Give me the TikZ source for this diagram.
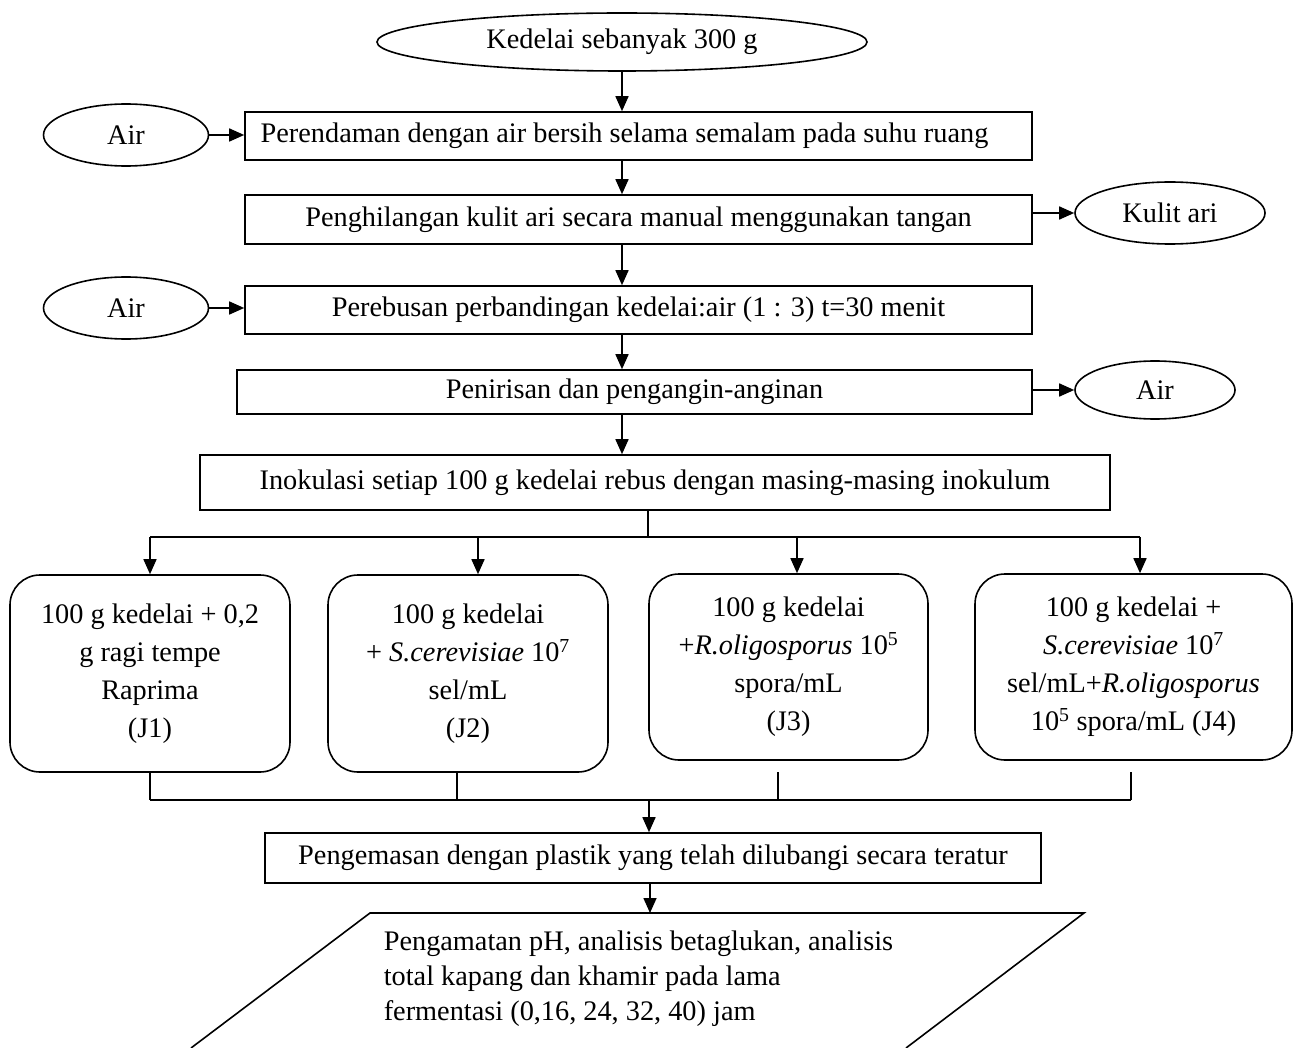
\documentclass[tikz,border=0pt]{standalone}
\usepackage{fontspec}
\setmainfont{Liberation Serif}
\usetikzlibrary{shapes.geometric,arrows.meta}
\begin{document}
\begin{tikzpicture}[x=1pt,y=-1pt, line width=1.6pt,
  every node/.style={font=\fontsize{28.3}{38}\selectfont},
  proc/.style={draw, rectangle, inner sep=0pt},
  oval/.style={draw, ellipse, inner sep=0pt},
  rbox/.style={draw, rounded corners=30pt, align=center, inner sep=0pt},
  arr/.style={-{Triangle[length=15pt,width=13pt]}}]
\useasboundingbox (0,0) rectangle (1303,1048);
% main chain
\node[oval, minimum width=490pt, minimum height=58pt] (start) at (622,42) {Kedelai sebanyak 300 g};
\node[proc, minimum width=787pt, minimum height=48pt] (b1) at (638.5,136) {Perendaman dengan air bersih selama semalam pada suhu ruang\hspace*{28pt}};
\node[oval, minimum width=165pt, minimum height=62pt] (air1) at (126,135) {Air};
\node[proc, minimum width=787pt, minimum height=49pt] (b2) at (638.5,219.5) {Penghilangan kulit ari secara manual menggunakan tangan};
\node[oval, minimum width=190pt, minimum height=62pt] (kulit) at (1170,213) {Kulit ari};
\node[proc, minimum width=787pt, minimum height=48pt] (b3) at (638.5,310) {Perebusan perbandingan kedelai:air (1 : 3) t=30 menit};
\node[oval, minimum width=165pt, minimum height=62pt] (air2) at (126,308) {Air};
\node[proc, minimum width=795pt, minimum height=44pt] (b4) at (634.5,392) {Penirisan dan pengangin-anginan};
\node[oval, minimum width=160pt, minimum height=58pt] (air3) at (1155,390) {Air};
\node[proc, minimum width=910pt, minimum height=55pt] (b5) at (655,482.5) {Inokulasi setiap 100 g kedelai rebus dengan masing-masing inokulum};
% treatments
\node[rbox, minimum width=280pt, minimum height=197pt] (j1) at (150,673.5) {100 g kedelai + 0,2\\ g ragi tempe\\ Raprima\\ (J1)};
\node[rbox, minimum width=280pt, minimum height=197pt] (j2) at (468,673.5) {100 g kedelai\\ + \textit{S.cerevisiae} 10\textsuperscript{7}\\ sel/mL\\ (J2)};
\node[rbox, minimum width=279pt, minimum height=186pt] (j3) at (788.5,667) {100 g kedelai\\ +\textit{R.oligosporus} 10\textsuperscript{5}\\ spora/mL\\ (J3)};
\node[rbox, minimum width=317pt, minimum height=186pt] (j4) at (1133.5,667) {100 g kedelai +\\ \textit{S.cerevisiae} 10\textsuperscript{7}\\ sel/mL+\textit{R.oligosporus}\\ 10\textsuperscript{5} spora/mL (J4)};
\node[proc, minimum width=776pt, minimum height=50pt] (pack) at (653,858) {Pengemasan dengan plastik yang telah dilubangi secara teratur};
% output parallelogram
\coordinate (p1) at (370,913);
\coordinate (p2) at (1084,913);
\coordinate (p3) at (906,1048);
\coordinate (p4) at (191,1048);
\draw (p4) -- (p1) -- (p2) -- (p3);
\node[anchor=north west, align=left, inner sep=0pt, font=\fontsize{28.3}{35}\selectfont] (obs) at (383,930) {Pengamatan pH, analisis betaglukan, analisis\\ total kapang dan khamir pada lama\\ fermentasi (0,16, 24, 32, 40) jam};
% connectors
\draw[arr] (start.south) -- (start.south |- b1.north);
\draw[arr] (b1.south -| start.south) -- (b2.north -| start.south);
\draw[arr] (b2.south -| start.south) -- (b3.north -| start.south);
\draw[arr] (b3.south -| start.south) -- (b4.north -| start.south);
\draw[arr] (b4.south -| start.south) -- (b5.north -| start.south);
\draw[arr] (air1.east) -- (air1.east -| b1.west);
\draw[arr] (b2.east |- kulit.west) -- (kulit.west);
\draw[arr] (air2.east) -- (air2.east -| b3.west);
\draw[arr] (b4.east |- air3.west) -- (air3.west);
% split bus
\coordinate (m) at (648,537);
\coordinate (t1) at (150,537);
\coordinate (t2) at (478,537);
\coordinate (t3) at (797,537);
\coordinate (t4) at (1140,537);
\draw (b5.south -| m) -- (m);
\draw (t1) -- (t4);
\draw[arr] (t1) -- (t1 |- j1.north);
\draw[arr] (t2) -- (t2 |- j2.north);
\draw[arr] (t3) -- (t3 |- j3.north);
\draw[arr] (t4) -- (t4 |- j4.north);
% join bus
\coordinate (u1) at (150,800);
\coordinate (u2) at (457,800);
\coordinate (u3) at (778,800);
\coordinate (u4) at (1131,800);
\coordinate (m2) at (649,800);
\draw (j1.south -| u1) -- (u1);
\draw (j2.south -| u2) -- (u2);
\draw (778,772) -- (u3);
\draw (1131,772) -- (u4);
\draw (u1) -- (u4);
\draw[arr] (m2) -- (m2 |- pack.north);
\draw[arr] (pack.south -| 650,0) -- (650,913);
\end{tikzpicture}
\end{document}
